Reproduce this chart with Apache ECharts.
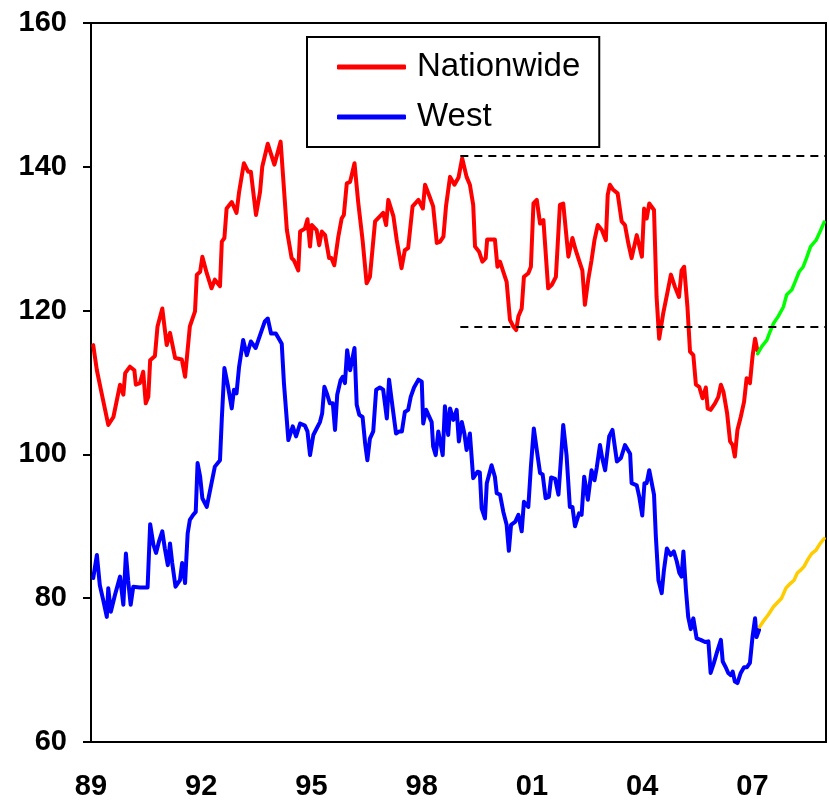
<!DOCTYPE html>
<html>
<head>
<meta charset="utf-8">
<script src="https://cdn.jsdelivr.net/npm/echarts@6/dist/echarts.min.js"></script>
<style>
  html, body { margin: 0; padding: 0; background: #fff; }
  #chart { width: 829px; height: 803px; }
</style>
</head>
<body>
<div id="chart"></div>
<script>
// time is in decimal years, values are index levels
const natYears = [1989.06, 1989.16, 1989.29, 1989.47, 1989.61, 1989.79, 1989.88, 1989.93, 1990.06, 1990.18, 1990.22, 1990.33, 1990.42, 1990.49, 1990.56, 1990.61, 1990.74, 1990.81, 1990.94, 1991.06, 1991.15, 1991.29, 1991.47, 1991.56, 1991.69, 1991.83, 1991.88, 1991.97, 1992.03, 1992.15, 1992.28, 1992.37, 1992.51, 1992.56, 1992.63, 1992.69, 1992.83, 1992.96, 1993.03, 1993.16, 1993.28, 1993.35, 1993.49, 1993.60, 1993.66, 1993.81, 1993.99, 1994.16, 1994.33, 1994.46, 1994.52, 1994.64, 1994.69, 1994.82, 1994.89, 1994.96, 1995.01, 1995.14, 1995.21, 1995.28, 1995.37, 1995.48, 1995.54, 1995.62, 1995.73, 1995.82, 1995.88, 1995.96, 1996.05, 1996.17, 1996.27, 1996.39, 1996.50, 1996.59, 1996.73, 1996.86, 1996.95, 1997.03, 1997.09, 1997.23, 1997.32, 1997.45, 1997.54, 1997.63, 1997.75, 1997.91, 1998.03, 1998.09, 1998.21, 1998.31, 1998.41, 1998.50, 1998.59, 1998.66, 1998.77, 1998.89, 1999.00, 1999.10, 1999.22, 1999.31, 1999.40, 1999.45, 1999.56, 1999.65, 1999.74, 1999.78, 1999.99, 2000.06, 2000.13, 2000.22, 2000.31, 2000.40, 2000.49, 2000.57, 2000.63, 2000.72, 2000.78, 2000.90, 2000.97, 2001.04, 2001.13, 2001.22, 2001.31, 2001.44, 2001.54, 2001.65, 2001.76, 2001.85, 2001.99, 2002.10, 2002.19, 2002.28, 2002.37, 2002.44, 2002.53, 2002.62, 2002.70, 2002.79, 2002.90, 2003.01, 2003.06, 2003.12, 2003.21, 2003.33, 2003.44, 2003.53, 2003.62, 2003.71, 2003.85, 2003.99, 2004.05, 2004.12, 2004.19, 2004.32, 2004.39, 2004.46, 2004.57, 2004.68, 2004.78, 2004.89, 2005.00, 2005.07, 2005.14, 2005.23, 2005.30, 2005.39, 2005.46, 2005.55, 2005.64, 2005.73, 2005.78, 2005.86, 2005.98, 2006.07, 2006.14, 2006.21, 2006.31, 2006.39, 2006.46, 2006.52, 2006.59, 2006.68, 2006.77, 2006.84, 2006.93, 2007.00, 2007.07, 2007.13];
const natValues = [115.2, 111.7, 108.5, 104.1, 105.2, 109.7, 108.3, 111.3, 112.2, 111.7, 109.7, 109.9, 111.5, 107.1, 108.0, 113.1, 113.7, 117.8, 120.3, 115.2, 116.9, 113.4, 113.2, 110.8, 117.8, 119.9, 125.0, 125.4, 127.5, 125.2, 123.1, 124.3, 123.4, 129.6, 130.1, 134.2, 135.1, 133.6, 136.5, 140.5, 139.3, 139.3, 133.3, 136.5, 140.0, 143.2, 140.3, 143.5, 131.2, 127.3, 127.0, 125.6, 131.0, 131.4, 132.7, 128.9, 131.9, 131.2, 129.1, 131.0, 130.5, 127.3, 127.3, 126.3, 130.3, 132.8, 133.3, 137.7, 137.9, 140.5, 135.1, 129.8, 123.8, 124.7, 132.4, 133.1, 133.6, 131.9, 135.4, 133.1, 129.8, 125.9, 128.4, 128.7, 134.5, 135.4, 134.2, 137.5, 135.9, 134.5, 129.4, 129.6, 130.3, 134.5, 138.6, 137.5, 138.5, 141.2, 138.6, 137.5, 134.7, 128.9, 128.2, 126.8, 127.3, 129.9, 129.9, 126.1, 126.8, 125.4, 124.0, 118.7, 117.8, 117.3, 119.2, 120.3, 124.7, 125.2, 126.1, 134.9, 135.4, 132.1, 132.6, 123.1, 123.6, 124.7, 134.7, 134.9, 127.5, 130.1, 128.4, 127.0, 125.6, 120.8, 124.3, 127.0, 129.8, 131.9, 131.2, 129.8, 136.1, 137.5, 136.8, 136.3, 132.4, 131.9, 129.4, 127.3, 130.5, 127.5, 134.2, 132.8, 134.9, 134.0, 121.9, 116.1, 119.6, 122.4, 125.0, 123.3, 121.9, 125.6, 126.1, 120.5, 114.3, 113.8, 109.7, 109.4, 107.8, 109.3, 106.4, 106.2, 107.1, 108.0, 109.7, 108.7, 105.7, 101.8, 101.3, 99.7, 103.4, 105.2, 107.3, 110.6, 109.9, 113.6, 116.1, 114.5];

const natProjYears = [2007.14, 2007.25, 2007.39, 2007.48, 2007.57, 2007.70, 2007.84, 2007.93, 2008.07, 2008.16, 2008.27, 2008.38, 2008.47, 2008.58, 2008.73, 2008.84, 2008.95];
const natProjValues = [114.0, 115.0, 115.9, 117.1, 118.2, 119.2, 120.5, 122.2, 122.9, 124.0, 125.4, 126.1, 127.3, 128.9, 129.8, 131.0, 132.3];

const westYears = [1989.06, 1989.16, 1989.24, 1989.33, 1989.43, 1989.47, 1989.54, 1989.65, 1989.79, 1989.88, 1989.95, 1990.01, 1990.08, 1990.15, 1990.33, 1990.54, 1990.61, 1990.70, 1990.77, 1990.85, 1990.94, 1991.01, 1991.09, 1991.15, 1991.21, 1991.30, 1991.42, 1991.48, 1991.56, 1991.63, 1991.69, 1991.78, 1991.85, 1991.90, 1991.97, 1992.03, 1992.15, 1992.24, 1992.37, 1992.51, 1992.56, 1992.63, 1992.72, 1992.83, 1992.89, 1992.96, 1993.03, 1993.14, 1993.24, 1993.35, 1993.48, 1993.60, 1993.73, 1993.81, 1993.90, 1994.03, 1994.19, 1994.25, 1994.37, 1994.49, 1994.58, 1994.69, 1994.82, 1994.89, 1994.96, 1995.05, 1995.14, 1995.23, 1995.29, 1995.35, 1995.43, 1995.50, 1995.58, 1995.64, 1995.70, 1995.79, 1995.85, 1995.91, 1995.97, 1996.05, 1996.17, 1996.23, 1996.30, 1996.39, 1996.46, 1996.52, 1996.59, 1996.68, 1996.76, 1996.86, 1996.95, 1997.05, 1997.11, 1997.18, 1997.30, 1997.39, 1997.46, 1997.54, 1997.63, 1997.70, 1997.79, 1997.91, 1998.00, 1998.04, 1998.12, 1998.18, 1998.27, 1998.31, 1998.38, 1998.45, 1998.57, 1998.63, 1998.72, 1998.77, 1998.86, 1998.95, 1999.01, 1999.09, 1999.16, 1999.22, 1999.31, 1999.40, 1999.52, 1999.58, 1999.63, 1999.72, 1999.77, 1999.90, 1999.99, 2000.04, 2000.13, 2000.22, 2000.31, 2000.37, 2000.43, 2000.54, 2000.63, 2000.72, 2000.78, 2000.90, 2000.97, 2001.05, 2001.13, 2001.22, 2001.29, 2001.37, 2001.46, 2001.52, 2001.63, 2001.72, 2001.79, 2001.85, 2001.94, 2002.03, 2002.10, 2002.17, 2002.28, 2002.35, 2002.42, 2002.52, 2002.62, 2002.70, 2002.76, 2002.85, 2002.91, 2002.99, 2003.10, 2003.19, 2003.31, 2003.42, 2003.53, 2003.67, 2003.71, 2003.85, 2003.92, 2004.00, 2004.06, 2004.12, 2004.19, 2004.32, 2004.37, 2004.44, 2004.53, 2004.59, 2004.67, 2004.77, 2004.86, 2004.94, 2005.01, 2005.07, 2005.12, 2005.19, 2005.25, 2005.32, 2005.39, 2005.48, 2005.59, 2005.71, 2005.80, 2005.86, 2005.95, 2006.04, 2006.14, 2006.19, 2006.28, 2006.34, 2006.41, 2006.46, 2006.52, 2006.59, 2006.68, 2006.77, 2006.85, 2006.93, 2007.00, 2007.07, 2007.11, 2007.18];
const westValues = [82.8, 86.0, 81.8, 79.8, 77.4, 81.4, 78.1, 80.4, 83.0, 79.1, 86.2, 82.5, 79.1, 81.6, 81.5, 81.5, 90.3, 87.4, 86.3, 87.9, 89.3, 86.9, 84.6, 87.6, 84.9, 81.6, 82.5, 84.9, 82.1, 89.0, 90.9, 91.6, 92.0, 98.8, 96.9, 93.9, 92.7, 95.0, 98.3, 99.2, 105.0, 112.0, 109.7, 106.4, 109.0, 108.5, 112.2, 115.9, 113.8, 115.7, 114.8, 116.6, 118.5, 118.9, 116.8, 116.8, 115.4, 109.9, 102.0, 103.9, 102.5, 104.3, 104.0, 103.2, 99.9, 102.7, 103.6, 104.5, 105.7, 109.4, 108.3, 107.1, 107.1, 103.4, 108.3, 110.3, 110.8, 109.9, 114.5, 111.7, 114.8, 106.9, 105.5, 105.2, 101.5, 99.2, 102.2, 103.2, 109.0, 109.3, 109.0, 105.0, 110.4, 107.6, 102.9, 103.2, 103.2, 105.9, 106.2, 108.0, 109.3, 110.4, 110.1, 104.3, 106.2, 105.5, 104.5, 101.1, 99.9, 103.2, 99.9, 106.7, 102.7, 106.4, 104.8, 106.2, 101.8, 104.5, 102.9, 100.6, 102.9, 96.7, 97.6, 97.5, 92.5, 91.1, 96.0, 98.5, 96.9, 94.6, 94.4, 92.0, 90.2, 86.6, 90.2, 90.6, 91.6, 89.3, 93.4, 92.7, 98.3, 103.6, 100.6, 97.4, 97.2, 93.9, 94.1, 96.8, 96.6, 94.4, 99.5, 104.1, 99.9, 92.7, 92.7, 90.0, 91.8, 91.6, 96.9, 93.7, 97.8, 96.4, 98.1, 101.3, 99.5, 97.8, 102.5, 103.4, 99.0, 99.5, 101.3, 100.1, 96.0, 95.7, 94.1, 91.5, 96.0, 96.0, 97.8, 94.4, 88.6, 82.5, 80.7, 83.9, 86.9, 86.0, 86.5, 85.1, 83.5, 83.0, 86.5, 81.1, 77.4, 75.7, 77.2, 74.4, 74.2, 73.9, 74.0, 69.6, 71.0, 72.6, 74.2, 71.2, 70.3, 69.6, 69.3, 69.8, 68.4, 68.2, 69.6, 70.4, 70.4, 71.0, 74.6, 77.2, 74.6, 75.6];

const westProjYears = [2007.19, 2007.31, 2007.43, 2007.57, 2007.70, 2007.79, 2007.91, 2008.02, 2008.13, 2008.22, 2008.31, 2008.40, 2008.52, 2008.61, 2008.73, 2008.84, 2008.95];
const westProjValues = [76.0, 76.9, 77.7, 78.8, 79.5, 80.0, 81.4, 82.0, 82.5, 83.5, 83.9, 84.4, 85.5, 86.2, 86.7, 87.6, 88.3];

// dashed reference levels
const refLevels = [141.6, 117.8];
const refStart = 1999.05;
const refEnd = 2009;

const zip = (xs, ys) => xs.map((x, i) => [x, ys[i]]);

const fontFamily = "'Liberation Sans', Arial, sans-serif";

let myChart = echarts.init(document.getElementById("chart"));
myChart.setOption({
  animation: false,
  backgroundColor: "#fff",
  grid: {
    left: 91,
    right: 3,
    top: 23,
    bottom: 61,
    show: true,
    borderColor: "#000",
    borderWidth: 2,
  },
  legend: {
    data: ["Nationwide", "West"],
    orient: "vertical",
    left: 307,
    top: 37,
    padding: [12, 19, 12, 30],
    itemGap: 14,
    itemWidth: 69,
    itemHeight: 5,
    icon: "roundRect",
    borderColor: "#000",
    borderWidth: 2,
    backgroundColor: "#fff",
    textStyle: {
      fontFamily: fontFamily,
      fontSize: 33,
      lineHeight: 36,
      color: "#000",
      padding: [0, 0, 0, 6],
    },
  },
  xAxis: {
    type: "value",
    min: 1989,
    max: 2009,
    interval: 3,
    axisLine: { lineStyle: { color: "#000", width: 2 } },
    axisTick: { show: false },
    splitLine: { show: false },
    axisLabel: {
      margin: 30,
      color: "#000",
      fontFamily: fontFamily,
      fontWeight: "bold",
      fontSize: 29,
      formatter: (v) => ((v - 1989) % 3 === 0 ? String(v % 100).padStart(2, "0") : ""),
    },
  },
  yAxis: {
    type: "value",
    min: 60,
    max: 160,
    interval: 20,
    axisLine: { show: true, lineStyle: { color: "#000", width: 2 } },
    axisTick: { show: true, inside: false, length: 8, lineStyle: { color: "#000", width: 2 } },
    splitLine: { show: false },
    axisLabel: {
      margin: 24,
      color: "#000",
      fontFamily: fontFamily,
      fontWeight: "bold",
      fontSize: 29,
    },
  },
  series: [
    {
      name: "Nationwide",
      type: "line",
      data: zip(natYears, natValues),
      showSymbol: false,
      symbol: "none",
      z: 3,
      lineStyle: { color: "#ff0000", width: 4, join: "round", cap: "round" },
      itemStyle: { color: "#ff0000" },
      markLine: {
        silent: true,
        symbol: "none",
        label: { show: false },
        lineStyle: { color: "#000", width: 2, type: [8, 6] },
        data: refLevels.map((v) => [{ coord: [refStart, v] }, { coord: [refEnd, v] }]),
      },
    },
    {
      name: "West",
      type: "line",
      data: zip(westYears, westValues),
      showSymbol: false,
      symbol: "none",
      z: 3,
      lineStyle: { color: "#0000ff", width: 4, join: "round", cap: "round" },
      itemStyle: { color: "#0000ff" },
    },
    {
      name: "Nationwide projection",
      type: "line",
      data: zip(natProjYears, natProjValues),
      showSymbol: false,
      symbol: "none",
      z: 4,
      lineStyle: { color: "#00ff00", width: 3.5, join: "round", cap: "round" },
    },
    {
      name: "West projection",
      type: "line",
      data: zip(westProjYears, westProjValues),
      showSymbol: false,
      symbol: "none",
      z: 4,
      lineStyle: { color: "#ffcc00", width: 3.5, join: "round", cap: "round" },
    },
  ],
});
</script>
</body>
</html>
